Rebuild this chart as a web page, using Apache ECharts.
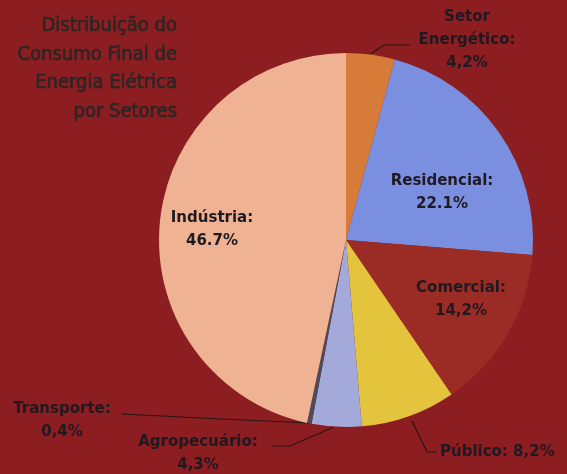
<!DOCTYPE html>
<html>
<head>
<meta charset="utf-8">
<script src="https://cdn.jsdelivr.net/npm/echarts@6/dist/echarts.min.js"></script>
<style>
html,body{margin:0;padding:0;background:#8c1d20;}
#chart{width:567px;height:474px;}
</style>
</head>
<body>
<div id="chart"></div>
<script>
const categories = ['Setor\nEnergético:', 'Residencial:', 'Comercial:', 'Público:', 'Agropecuário:', 'Transporte:', 'Indústria:'];
const values = [4.2, 22.1, 14.2, 8.2, 4.3, 0.4, 46.7];
const valueLabels = ['4,2%', '22.1%', '14,2%', '8,2%', '4,3%', '0,4%', '46.7%'];
const colors = ['#d67b38', '#7b8fe0', '#9b2c25', '#e4c43c', '#a3aad9', '#4b4b5e', '#efb393'];
const titleLines = ['Distribuição do', 'Consumo Final de', 'Energia Elétrica', 'por Setores'];

// label placement (layout only)
const labelPlace = [
  {x: 467, y: 40, align: 'center', line: [[368, 56], [384, 45], [410, 45]]},
  {x: 442, y: 193, align: 'center'},
  {x: 461, y: 300, align: 'center'},
  {x: 440, y: 452, align: 'left', line: [[412, 421], [427, 452], [437, 452]]},
  {x: 198, y: 454, align: 'center', line: [[334, 427], [290, 446], [272, 446]]},
  {x: 62, y: 421, align: 'center', line: [[309, 423], [200, 418], [122, 414]]},
  {x: 212, y: 230, align: 'center'}
];
const outside = [true, false, false, true, true, true, false];

const chart = echarts.init(document.getElementById('chart'), null, {renderer: 'canvas'});
const data = categories.map((c, i) => ({
  name: c,
  value: values[i],
  itemStyle: {color: colors[i]},
  label: {
    position: outside[i] ? 'outside' : 'inside',
    formatter: i === 3 ? c + ' ' + valueLabels[i] : c + '\n' + valueLabels[i]
  },
  labelLine: {show: outside[i]}
}));

chart.setOption({
  backgroundColor: '#8c1d20',
  animation: false,
  graphic: [{
    type: 'text',
    x: 177,
    y: 12,
    style: {
      text: titleLines.join('\n'),
      align: 'right',
      verticalAlign: 'top',
      fill: '#2b2626',
      stroke: '#2b2626',
      lineWidth: 0.6,
      font: '20px "Liberation Sans Narrow", "DejaVu Sans Condensed", sans-serif',
      lineHeight: 28.5
    }
  }],
  series: [{
    type: 'pie',
    center: [346, 240],
    radius: [0, 187],
    startAngle: 90,
    clockwise: true,
    avoidLabelOverlap: false,
    itemStyle: {borderWidth: 0},
    label: {
      color: '#1f1a22',
      fontSize: 15,
      fontWeight: 'bold',
      fontFamily: '"DejaVu Sans", sans-serif',
      lineHeight: 23,
      align: 'center'
    },
    labelLine: {
      lineStyle: {color: '#2a1515', width: 1.2}
    },
    labelLayout: function (params) {
      const p = labelPlace[params.dataIndex];
      const r = {x: p.x, y: p.y, align: p.align, verticalAlign: 'middle'};
      if (p.line) r.labelLinePoints = p.line;
      return r;
    },
    data: data
  }]
});
</script>
</body>
</html>
